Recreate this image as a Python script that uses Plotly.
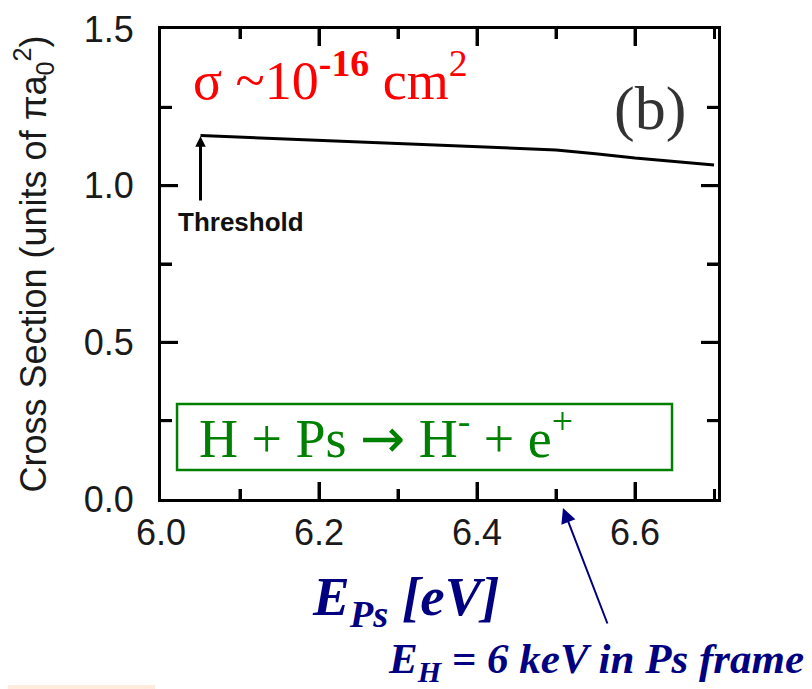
import plotly.graph_objects as go

# ---- data ----
energy_eV = [6.05, 6.10, 6.20, 6.30, 6.40, 6.50, 6.55, 6.60, 6.70]
cross_section = [1.160, 1.155, 1.145, 1.136, 1.126, 1.114, 1.102, 1.088, 1.066]

x_range = [6.0, 6.705]
x_major_step = 0.2
x_minor_step = 0.1
y_range = [0.0, 1.5]
y_major_step = 0.5
y_minor_step = 0.25

threshold_x = 6.05
threshold_y_tail = 0.948
threshold_y_head = 1.158

SERIF = "Liberation Serif, Times New Roman, serif"
SANS = "Liberation Sans, Arial, Helvetica, sans-serif"
NAVY = "#000080"
GREEN = "#008000"
MAJOR_LEN, MINOR_LEN, TICK_W = 17, 10, 3


def px_x(px):  # reference-image pixel -> paper x
    return (px - 161) / 557


def px_y(py):  # reference-image pixel -> paper y
    return (499 - py) / 470


def inner_steps(lo, hi, step):
    vals, k = [], 1
    while True:
        v = round(lo + k * step, 6)
        if v >= hi - step * 0.25:
            break
        vals.append(v)
        k += 1
    return vals


x_major = inner_steps(x_range[0], x_range[1], x_major_step)
x_minor = [v for v in inner_steps(x_range[0], x_range[1], x_minor_step) if v not in x_major]
y_major = inner_steps(y_range[0], y_range[1], y_major_step)
y_minor = [v for v in inner_steps(y_range[0], y_range[1], y_minor_step) if v not in y_major]

fig = go.Figure()
fig.add_trace(go.Scatter(
    x=energy_eV, y=cross_section, mode="lines",
    line=dict(color="black", width=3), showlegend=False,
))

axis_common = dict(
    showline=True, linecolor="black", linewidth=3, mirror="ticks", layer="above traces",
    ticks="inside", tickcolor="black", tickwidth=TICK_W, ticklen=MAJOR_LEN,
    showgrid=False, zeroline=False, automargin=False, tickformat=".1f",
    tickfont=dict(family=SANS, size=36, color="#1a1a1a"),
)

fig.update_xaxes(
    range=x_range, tick0=x_range[0], dtick=x_major_step,
    minor=dict(dtick=x_minor_step, ticks="inside", ticklen=MINOR_LEN,
               tickwidth=TICK_W, tickcolor="black", showgrid=False),
    **axis_common,
)
fig.update_yaxes(
    range=y_range, tick0=y_range[0], dtick=y_major_step,
    minor=dict(dtick=y_minor_step, ticks="inside", ticklen=MINOR_LEN + 1,
               tickwidth=TICK_W, tickcolor="black", showgrid=False),
    ticklabelstandoff=17,
    title=dict(text="Cross Section (units of πa<sub>0</sub><sup>2</sup>)",
               font=dict(family=SANS, size=36, color="#1a1a1a"), standoff=36),
    **axis_common,
)

# inside tick marks on all four sides, placed through the axes' own scales
tick_line = dict(color="black", width=TICK_W)
shapes = []
for vals, ln in ((x_major, MAJOR_LEN), (x_minor, MINOR_LEN)):
    for v in vals:
        shapes.append(dict(type="line", xref="x", yref="y", x0=v, x1=v,
                           ysizemode="pixel", yanchor=y_range[0], y0=0, y1=ln, line=tick_line))
        shapes.append(dict(type="line", xref="x", yref="y", x0=v, x1=v,
                           ysizemode="pixel", yanchor=y_range[1], y0=0, y1=-ln, line=tick_line))
for vals, ln in ((y_major, MAJOR_LEN), (y_minor, MINOR_LEN + 1)):
    for v in vals:
        shapes.append(dict(type="line", xref="x", yref="y", y0=v, y1=v,
                           xsizemode="pixel", xanchor=x_range[0], x0=0, x1=ln, line=tick_line))
        shapes.append(dict(type="line", xref="x", yref="y", y0=v, y1=v,
                           xsizemode="pixel", xanchor=x_range[1], x0=0, x1=-ln, line=tick_line))

shapes += [
    dict(type="rect", xref="x", yref="y", x0=6.0203, x1=6.6468, y0=0.0927, y1=0.3034,
         line=dict(color=GREEN, width=2.5), fillcolor="rgba(0,0,0,0)"),
    dict(type="rect", xref="paper", yref="paper", x0=px_x(0), x1=px_x(155),
         y0=px_y(689), y1=px_y(685),
         line=dict(width=0), fillcolor="rgba(255,200,160,0.35)", layer="above"),
]

annotations = [
    # threshold arrow
    dict(x=threshold_x, y=threshold_y_head, ax=threshold_x, ay=threshold_y_tail,
         xref="x", yref="y", axref="x", ayref="y", text="", showarrow=True,
         arrowhead=2, arrowsize=0.7, arrowwidth=3, arrowcolor="black"),
    dict(x=6.101, y=0.884, xref="x", yref="y", text="<b>Threshold</b>", showarrow=False,
         font=dict(family=SANS, size=26, color="#111111"), xanchor="center", yanchor="middle"),
    # cross-section magnitude
    dict(x=6.0375, y=1.35, xref="x", yref="y", xanchor="left", yanchor="middle",
         text="σ ~10<sup><b>-16</b></sup> cm<sup>2</sup>", showarrow=False,
         font=dict(family=SERIF, size=54, color="#ff0000")),
    # panel label
    dict(x=6.619, y=1.246, xref="x", yref="y", xanchor="center", yanchor="middle",
         text="(b)", showarrow=False, font=dict(family=SERIF, size=62, color="#333333")),
    # reaction
    dict(x=6.0456, y=0.205, xref="x", yref="y", xanchor="left", yanchor="middle",
         text="H + Ps <span style='font-family:DejaVu Sans'>→</span> H<sup>-</sup> + e<sup>+</sup>",
         showarrow=False, font=dict(family=SERIF, size=54, color=GREEN)),
    # x-axis label
    dict(x=px_x(406), y=px_y(600), xref="paper", yref="paper",
         xanchor="center", yanchor="middle",
         text="<b><i>E<sub>Ps</sub> [eV]</i></b>", showarrow=False,
         font=dict(family=SERIF, size=55, color=NAVY)),
    # navy arrow
    dict(x=px_x(563), y=px_y(508), xref="paper", yref="paper", ax=45, ay=117, text="",
         showarrow=True, arrowhead=2, arrowsize=1.5, arrowwidth=2, arrowcolor=NAVY),
    dict(x=px_x(386), y=px_y(662), xref="paper", yref="paper",
         xanchor="left", yanchor="middle",
         text="<b><i>E<sub>H</sub> = 6 keV in Ps frame</i></b>", showarrow=False,
         font=dict(family=SERIF, size=43, color=NAVY)),
]

# page body adds an 8 px offset, so margins are shifted by 8 px
fig.update_layout(
    width=812, height=689,
    margin=dict(l=153, r=102, t=21, b=198),
    paper_bgcolor="rgba(0,0,0,0)", plot_bgcolor="rgba(0,0,0,0)",
    annotations=annotations, shapes=shapes,
    showlegend=False,
)

fig.write_html("out.html")
